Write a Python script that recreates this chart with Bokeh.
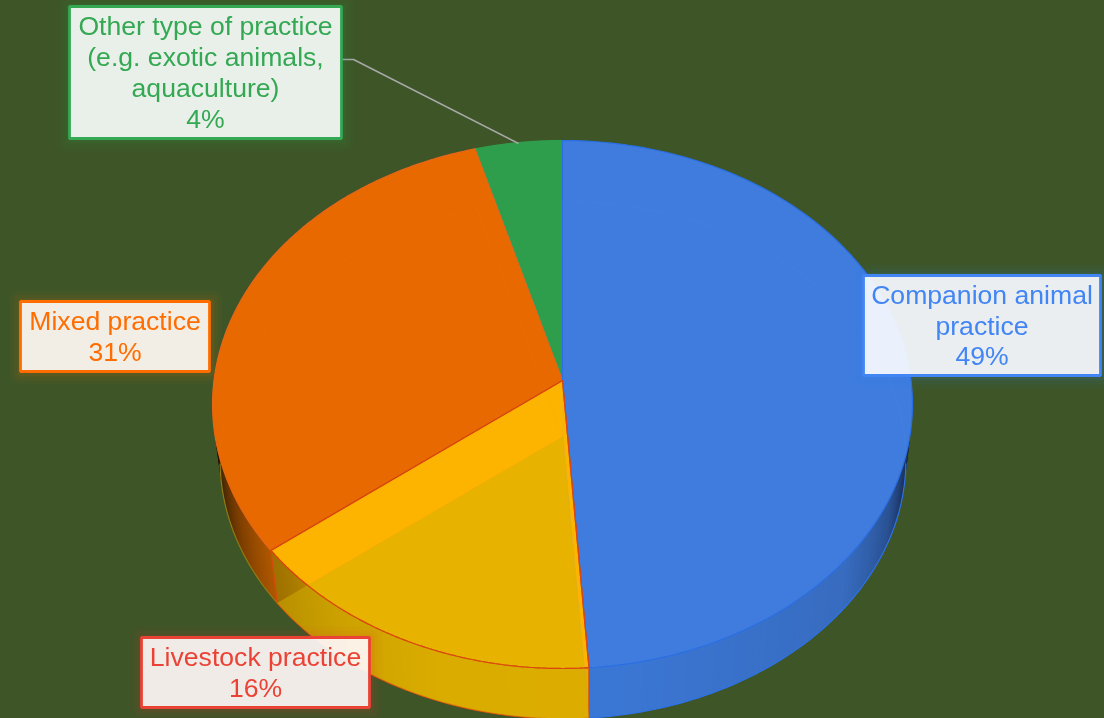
import numpy as np
from bokeh.core.properties import value
from bokeh.embed import file_html
from bokeh.models import Range1d
from bokeh.plotting import figure
from bokeh.resources import INLINE

# ---- data
categories = ["Companion animal practice", "Livestock practice", "Mixed practice", "Other type of practice"]
shares = [48.9, 15.6, 31.1, 4.4]
percent_labels = ["49%", "16%", "31%", "4%"]
label_lines = [
    ["Companion animal", "practice"],
    ["Livestock practice"],
    ["Mixed practice"],
    ["Other type of practice", "(e.g. exotic animals,", "aquaculture)"],
]

# ---- styles and layout
BG = "#3D5527"
face_colors = ["#3F7CDE", "#FDB400", "#E86900", "#2F9E4C"]
edge_colors = ["#2B6FE6", "#D9480F", "#E8661A", "#2F9E4C"]
text_colors = ["#4285F4", "#EA4335", "#FF6D01", "#34A853"]
boxes = [(863, 275, 1100, 375), (141, 637, 369, 707), (20, 301, 209, 371), (69, 6, 341, 138)]
wall_stops = [
    ([100, 115, 130, 176], [(0x12, 0x22, 0x44), (0x2A, 0x52, 0x94), (0x38, 0x6C, 0xC0), (0x3B, 0x78, 0xD6)]),
    ([176, 200, 215, 228, 233], [(0xE6, 0xAC, 0x00), (0xE0, 0xA8, 0x00), (0xC8, 0x96, 0x00), (0xA6, 0x78, 0x00), (0x9C, 0x70, 0x00)]),
    ([232, 245, 262, 270], [(0xB0, 0x58, 0x00), (0x7A, 0x3C, 0x00), (0x20, 0x10, 0x00), (0x20, 0x10, 0x00)]),
]

TOP = dict(cx=562.0, cy=380.0, a=261.8, c=348.5)
LOW = dict(cx=562.5, cy=436.0, a=256.6, c=341.5)
B = 0.0909


def rim(deg, g):
    t = np.radians(np.asarray(deg, dtype=float))
    u, v = np.sin(t), np.cos(t)
    w = 1 + B * v
    return g["cx"] + g["c"] * u / w, g["cy"] - g["a"] * v / w


def wedge(d0, d1, g):
    x, y = rim(np.linspace(d0, d1, 160), g)
    return np.r_[g["cx"], x], np.r_[g["cy"], y]


edges = np.r_[0, np.cumsum(shares)] * 3.6

p = figure(width=1106, height=720, output_backend="svg", toolbar_location=None,
           x_range=Range1d(-1, 1105), y_range=Range1d(719, -1), min_border=0,
           background_fill_color=BG, border_fill_color=BG, outline_line_color=None,
           styles={"position": "fixed", "left": "-1px", "top": "-1px"})
p.xaxis.visible = False
p.yaxis.visible = False
p.grid.visible = False

# side walls, one thin strip per step along the rim
for i, (stops, cols) in enumerate(wall_stops):
    d0, d1 = edges[i], edges[i + 1]
    if i == 0:
        d0 = 96.0
    if i == 2:
        d1 = 264.0
    ds = np.linspace(d0, d1, 70)
    step = ds[1] - ds[0]
    xs, ys, fc = [], [], []
    for a0, a1 in zip(ds[:-1], ds[1:]):
        end = min(a1 + step * 0.6, d1)
        tx, ty = rim([a0, end], TOP)
        lx, ly = rim([end, a0], LOW)
        xs.append(np.r_[tx, lx])
        ys.append(np.r_[ty, ly])
        m = (a0 + a1) / 2
        r, g_, b = [int(np.interp(m, stops, [c[k] for c in cols])) for k in range(3)]
        fc.append(f"#{r:02x}{g_:02x}{b:02x}")
    p.patches(xs, ys, fill_color=fc, line_color=None)
    lx, ly = rim(ds, LOW)
    p.line(lx, ly, line_color=edge_colors[i] if i < 2 else "#8A7A10", line_width=1.2)

# wall seams at the ends of the yellow slice
for e in (edges[1], edges[2]):
    sx0, sy0 = rim([e], TOP)
    sx1, sy1 = rim([e], LOW)
    p.line([sx0[0], sx1[0]], [sy0[0], sy1[0]], line_color="#D9480F", line_width=1.3)

# top faces
for i in [3, 2, 0, 1]:
    x, y = wedge(edges[i], edges[i + 1], TOP)
    p.patch(x, y, fill_color=face_colors[i], line_color=edge_colors[i], line_width=1.2)

# the lower disc showing through the top
x, y = wedge(edges[1], edges[2], LOW)
p.patch(x, y, fill_color="#D3B000", fill_alpha=0.5, line_color=None)
for i, col in [(0, "#5A9BFF"), (2, "#FF8A20")]:
    x, y = wedge(edges[i], edges[i + 1], LOW)
    p.patch(x, y, fill_color=None, line_color=col, line_alpha=0.10, line_width=1)

# redraw the yellow slice's outline above the overlay
x, y = wedge(edges[1], edges[2], TOP)
p.line(np.r_[x, x[0]], np.r_[y, y[0]], line_color="#D9480F", line_width=1.2)

# leader line of the smallest slice
p.line([341, 353, 518], [59, 59, 143], line_color="#A8A8A8", line_width=1.5)

# labels
for i, (x0, y0, x1, y1) in enumerate(boxes):
    col = text_colors[i]
    for d, al in [(6, 0.035), (4, 0.05), (2, 0.08)]:
        p.quad(left=x0 - d + 1, right=x1 + d + 1, top=y0 - d + 1, bottom=y1 + d + 1,
               fill_color=None, line_color=col, line_alpha=al, line_width=2 * d)
    p.quad(left=x0, right=x1, top=y0, bottom=y1, fill_color=col, fill_alpha=0.4, line_color=None)
    p.quad(left=x0, right=x1, top=y0, bottom=y1, fill_color="#FFFFFF", fill_alpha=0.89,
           line_color=col, line_width=2.8)
    lines = label_lines[i] + [percent_labels[i]]
    cx = (x0 + x1) / 2
    cy = (y0 + y1) / 2
    n = len(lines)
    ty = [cy + (k - (n - 1) / 2) * 30.8 for k in range(n)]
    p.text([cx] * n, ty, text=lines, text_align="center", text_baseline="middle",
           text_color=col, text_font=value("Liberation Sans"), text_font_size="26.6px")

open("out.html", "w").write(file_html(p, INLINE))
